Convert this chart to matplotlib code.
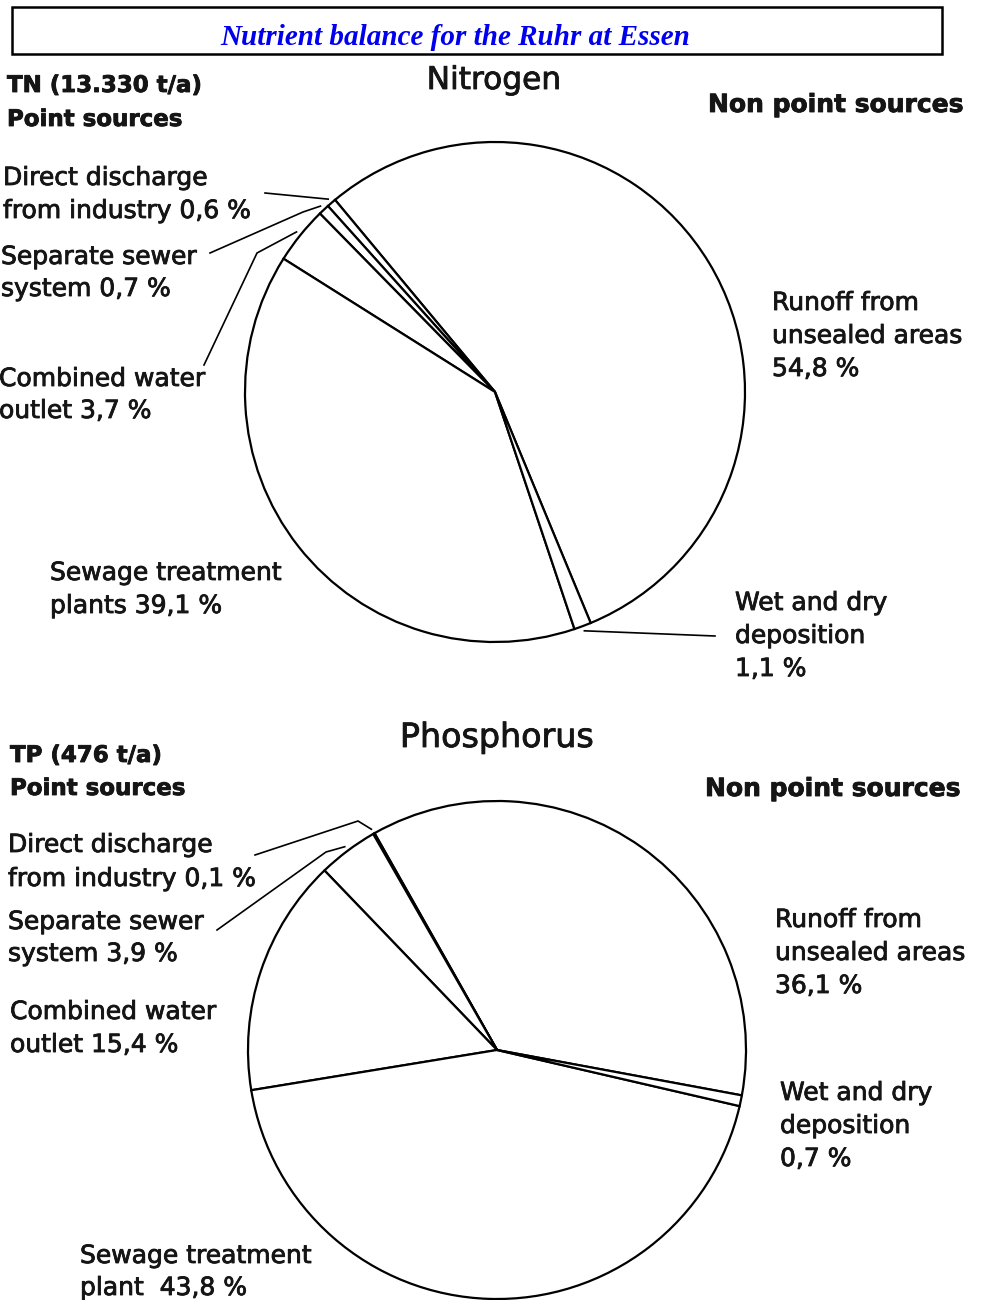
import numpy as np
import matplotlib.pyplot as plt
import matplotlib.patheffects as pe
from matplotlib.patches import Rectangle

#---------------- DATA ------------------------------------------------------

sources = ["Runoff from unsealed areas", "Direct discharge from industry",
           "Separate sewer system", "Combined water outlet",
           "Sewage treatment plants", "Wet and dry deposition"]

# nitrogen, TN 13.330 t/a, shares in %
n_share = [54.8, 0.6, 0.7, 3.7, 39.1, 1.1]
# phosphorus, TP 476 t/a, shares in %
p_share = [36.1, 0.1, 3.9, 15.4, 43.8, 0.7]

n_labels = [["Runoff from", "unsealed areas", "54,8 %"],
            ["Direct discharge", "from industry 0,6 %"],
            ["Separate sewer", "system 0,7 %"],
            ["Combined water", "outlet 3,7 %"],
            ["Sewage treatment", "plants 39,1 %"],
            ["Wet and dry", "deposition", "1,1 %"]]
p_labels = [["Runoff from", "unsealed areas", "36,1 %"],
            ["Direct discharge", "from industry 0,1 %"],
            ["Separate sewer", "system 3,9 %"],
            ["Combined water", "outlet 15,4 %"],
            ["Sewage treatment", "plant  43,8 %"],
            ["Wet and dry", "deposition", "0,7 %"]]

title = "Nutrient balance for the Ruhr at Essen"

#---------------- LAYOUT (pixel coords, y measured from top) ----------------

W, H = 986, 1300
def Y(y):
    return H - y

fig = plt.figure(figsize=(W / 100, H / 100), dpi=100)
ax = fig.add_axes([0, 0, 1, 1])

INK = "#151515"
LAB = 18
heavy = [pe.withStroke(linewidth=0.6, foreground=INK)]

def put(x, y, lines, size=LAB, weight="normal", step=33, ha="left"):
    for i, s in enumerate(lines):
        ax.text(x, Y(y + i * step), s, fontsize=size, fontweight=weight,
                color=INK, ha=ha, va="baseline", family="DejaVu Sans",
                path_effects=heavy)

def draw_pie(vals, cx, cy, r, start):
    wedges, _ = ax.pie(vals, startangle=start, counterclock=True,
                       center=(cx, Y(cy)), radius=r,
                       wedgeprops=dict(facecolor="white", edgecolor="black",
                                       linewidth=1.6))
    return wedges

def leader(w, pts, cx, cy, r):
    mid = np.deg2rad((w.theta1 + w.theta2) / 2)
    ex = cx + 1.02 * r * np.cos(mid)
    ey = Y(cy) + 1.02 * r * np.sin(mid)
    xs = [p[0] for p in pts] + [ex]
    ys = [Y(p[1]) for p in pts] + [ey]
    ax.plot(xs, ys, color="black", lw=1.2, solid_joinstyle="miter")

# title box
ax.add_patch(Rectangle((12, Y(54)), 930, 47, fill=False, edgecolor="black", lw=1.8))
ax.text(455, Y(45), title, fontsize=21, color="#0000ee", ha="center",
        va="baseline", family="Liberation Serif", fontweight="bold", style="italic")

#---------------- NITROGEN ---------------------------------------------------

ncx, ncy, nr = 495, 392, 250
nw = draw_pie(n_share, ncx, ncy, nr, -67.5)

put(7, 92, ["TN (13.330 t/a)", "Point sources"], size=16.5, weight="bold", step=34)
put(494, 89, ["Nitrogen"], size=22.5, ha="center")
put(708, 112, ["Non point sources"], size=18, weight="bold")

put(772, 310, n_labels[0])
put(3, 185, n_labels[1])
put(1, 264, n_labels[2], step=32)
put(-1, 386, n_labels[3], step=32)
put(50, 580, n_labels[4])
put(735, 610, n_labels[5])

leader(nw[1], [(265, 193)], ncx, ncy, nr)
leader(nw[2], [(210, 253), (303, 212)], ncx, ncy, nr)
leader(nw[3], [(204, 365), (257, 253)], ncx, ncy, nr)
leader(nw[5], [(715, 636)], ncx, ncy, nr)

#---------------- PHOSPHORUS -------------------------------------------------

pcx, pcy, pr = 497, 1050, 249
pw = draw_pie(p_share, pcx, pcy, pr, -10.5)

put(10, 762, ["TP (476 t/a)", "Point sources"], size=16.5, weight="bold")
put(497, 747, ["Phosphorus"], size=24, ha="center")
put(705, 796, ["Non point sources"], size=18, weight="bold")

put(775, 927, p_labels[0])
put(8, 852, p_labels[1], step=34)
put(8, 929, p_labels[2], step=32)
put(10, 1019, p_labels[3])
put(80, 1263, p_labels[4], step=32)
put(780, 1100, p_labels[5])

leader(pw[1], [(255, 855), (358, 821)], pcx, pcy, pr)
leader(pw[2], [(217, 930), (326, 852)], pcx, pcy, pr)

ax.set_xlim(0, W)
ax.set_ylim(0, H)
ax.set_aspect("equal")
ax.axis("off")

fig.savefig("out.png", dpi=100, facecolor="white")
